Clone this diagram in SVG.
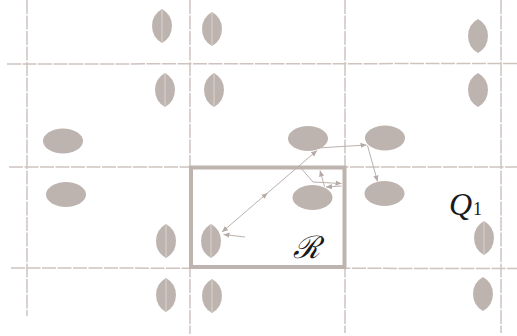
<svg xmlns="http://www.w3.org/2000/svg" xmlns:xlink="http://www.w3.org/1999/xlink" width="517" height="336" viewBox="0 0 517 336">
<style>
.grid{stroke:#cdc3bf;stroke-width:1.5;stroke-dasharray:14 1.5;fill:none}
.shape{fill:#bdb3af}
.vein{stroke:#ddd5d2;stroke-width:1}
.frame{fill:none;stroke:#bdb3af;stroke-width:4}
.con{fill:none;stroke:#bcb1ad;stroke-width:1}
.lbl{font-family:"Liberation Serif","DejaVu Serif",serif;font-style:italic;fill:#1a1a1a}
</style>
<defs>
<path id="leafShape" class="shape" d="M0,-17 A19.5,19.5 0 0 1 0,17 A19.5,19.5 0 0 1 0,-17 Z"/>
<g id="leafVein"><use xlink:href="#leafShape"/><line class="vein" x1="0" y1="-16" x2="0" y2="16"/></g>
<marker id="ah" viewBox="0 0 6 6" refX="6" refY="3" markerWidth="6" markerHeight="6" markerUnits="userSpaceOnUse" orient="auto-start-reverse">
<path d="M0,0.4 L6,3 L0,5.6 Z" fill="#b5aaa6"/>
</marker>
</defs>
<rect width="517" height="336" fill="#ffffff"/>
<g id="grid">
<line class="grid" x1="7" y1="64" x2="517" y2="63.5"/>
<line class="grid" x1="9" y1="167" x2="517" y2="167"/>
<line class="grid" x1="11" y1="268" x2="517" y2="268.5"/>
<line class="grid" x1="27" y1="0" x2="27" y2="316"/>
<line class="grid" x1="190" y1="0" x2="190" y2="334"/>
<line class="grid" x1="345" y1="0" x2="345" y2="333"/>
<line class="grid" x1="501" y1="0" x2="501" y2="333"/>
</g>
<g id="region-R">
<rect class="frame" x="191" y="167.5" width="153.5" height="99.5"/>
<text class="lbl" x="293" y="258" font-size="31">ℛ</text>
</g>
<g id="label-Q1">
<text class="lbl" x="449" y="215" font-size="32">Q<tspan font-style="normal" font-size="18" dx="1">1</tspan></text>
</g>
<g id="leaf-1"><use xlink:href="#leafVein" x="162" y="26"/></g>
<g id="leaf-2"><use xlink:href="#leafVein" x="212" y="29"/></g>
<g id="leaf-3"><use xlink:href="#leafVein" x="165" y="90"/></g>
<g id="leaf-4"><use xlink:href="#leafVein" x="214" y="90"/></g>
<g id="leaf-5"><use xlink:href="#leafShape" x="478" y="36"/></g>
<g id="leaf-6"><use xlink:href="#leafShape" x="478" y="90"/></g>
<g id="leaf-7"><use xlink:href="#leafVein" x="166" y="241"/></g>
<g id="leaf-8"><use xlink:href="#leafVein" x="211" y="241"/></g>
<g id="leaf-9"><use xlink:href="#leafVein" x="166" y="295"/></g>
<g id="leaf-10"><use xlink:href="#leafVein" x="212" y="296"/></g>
<g id="leaf-11"><use xlink:href="#leafVein" x="484" y="238"/></g>
<g id="leaf-12"><use xlink:href="#leafShape" x="483" y="294"/></g>
<g id="ellipse-1"><ellipse class="shape" cx="63" cy="141" rx="20" ry="12.5"/></g>
<g id="ellipse-2"><ellipse class="shape" cx="308" cy="138.5" rx="20" ry="12.5"/></g>
<g id="ellipse-3"><ellipse class="shape" cx="385" cy="138" rx="20" ry="12.5"/></g>
<g id="ellipse-4"><ellipse class="shape" cx="66" cy="194.5" rx="20" ry="12.5"/></g>
<g id="ellipse-5"><ellipse class="shape" cx="312.5" cy="197.5" rx="20" ry="12.5"/></g>
<g id="ellipse-6"><ellipse class="shape" cx="384.5" cy="193.5" rx="20" ry="12.5"/></g>
<g id="connectors">
<path class="con" d="M222,232 L317,150.5" marker-start="url(#ah)" marker-end="url(#ah)"/>
<path class="con" d="M262,197.7 L267.5,193" marker-end="url(#ah)"/>
<path class="con" d="M245,237 L223.5,234.5" marker-end="url(#ah)"/>
<path class="con" d="M317,148 L366.5,145" marker-end="url(#ah)"/>
<path class="con" d="M367.5,145.5 L377.5,181.5" marker-end="url(#ah)"/>
<path class="con" d="M300,167 L313,182 L341.5,183.5" marker-end="url(#ah)"/>
<path class="con" d="M341.5,186 L326,187" marker-end="url(#ah)"/>
<path class="con" d="M324.5,186.5 L320,170.5" marker-end="url(#ah)"/>
</g>
</svg>
